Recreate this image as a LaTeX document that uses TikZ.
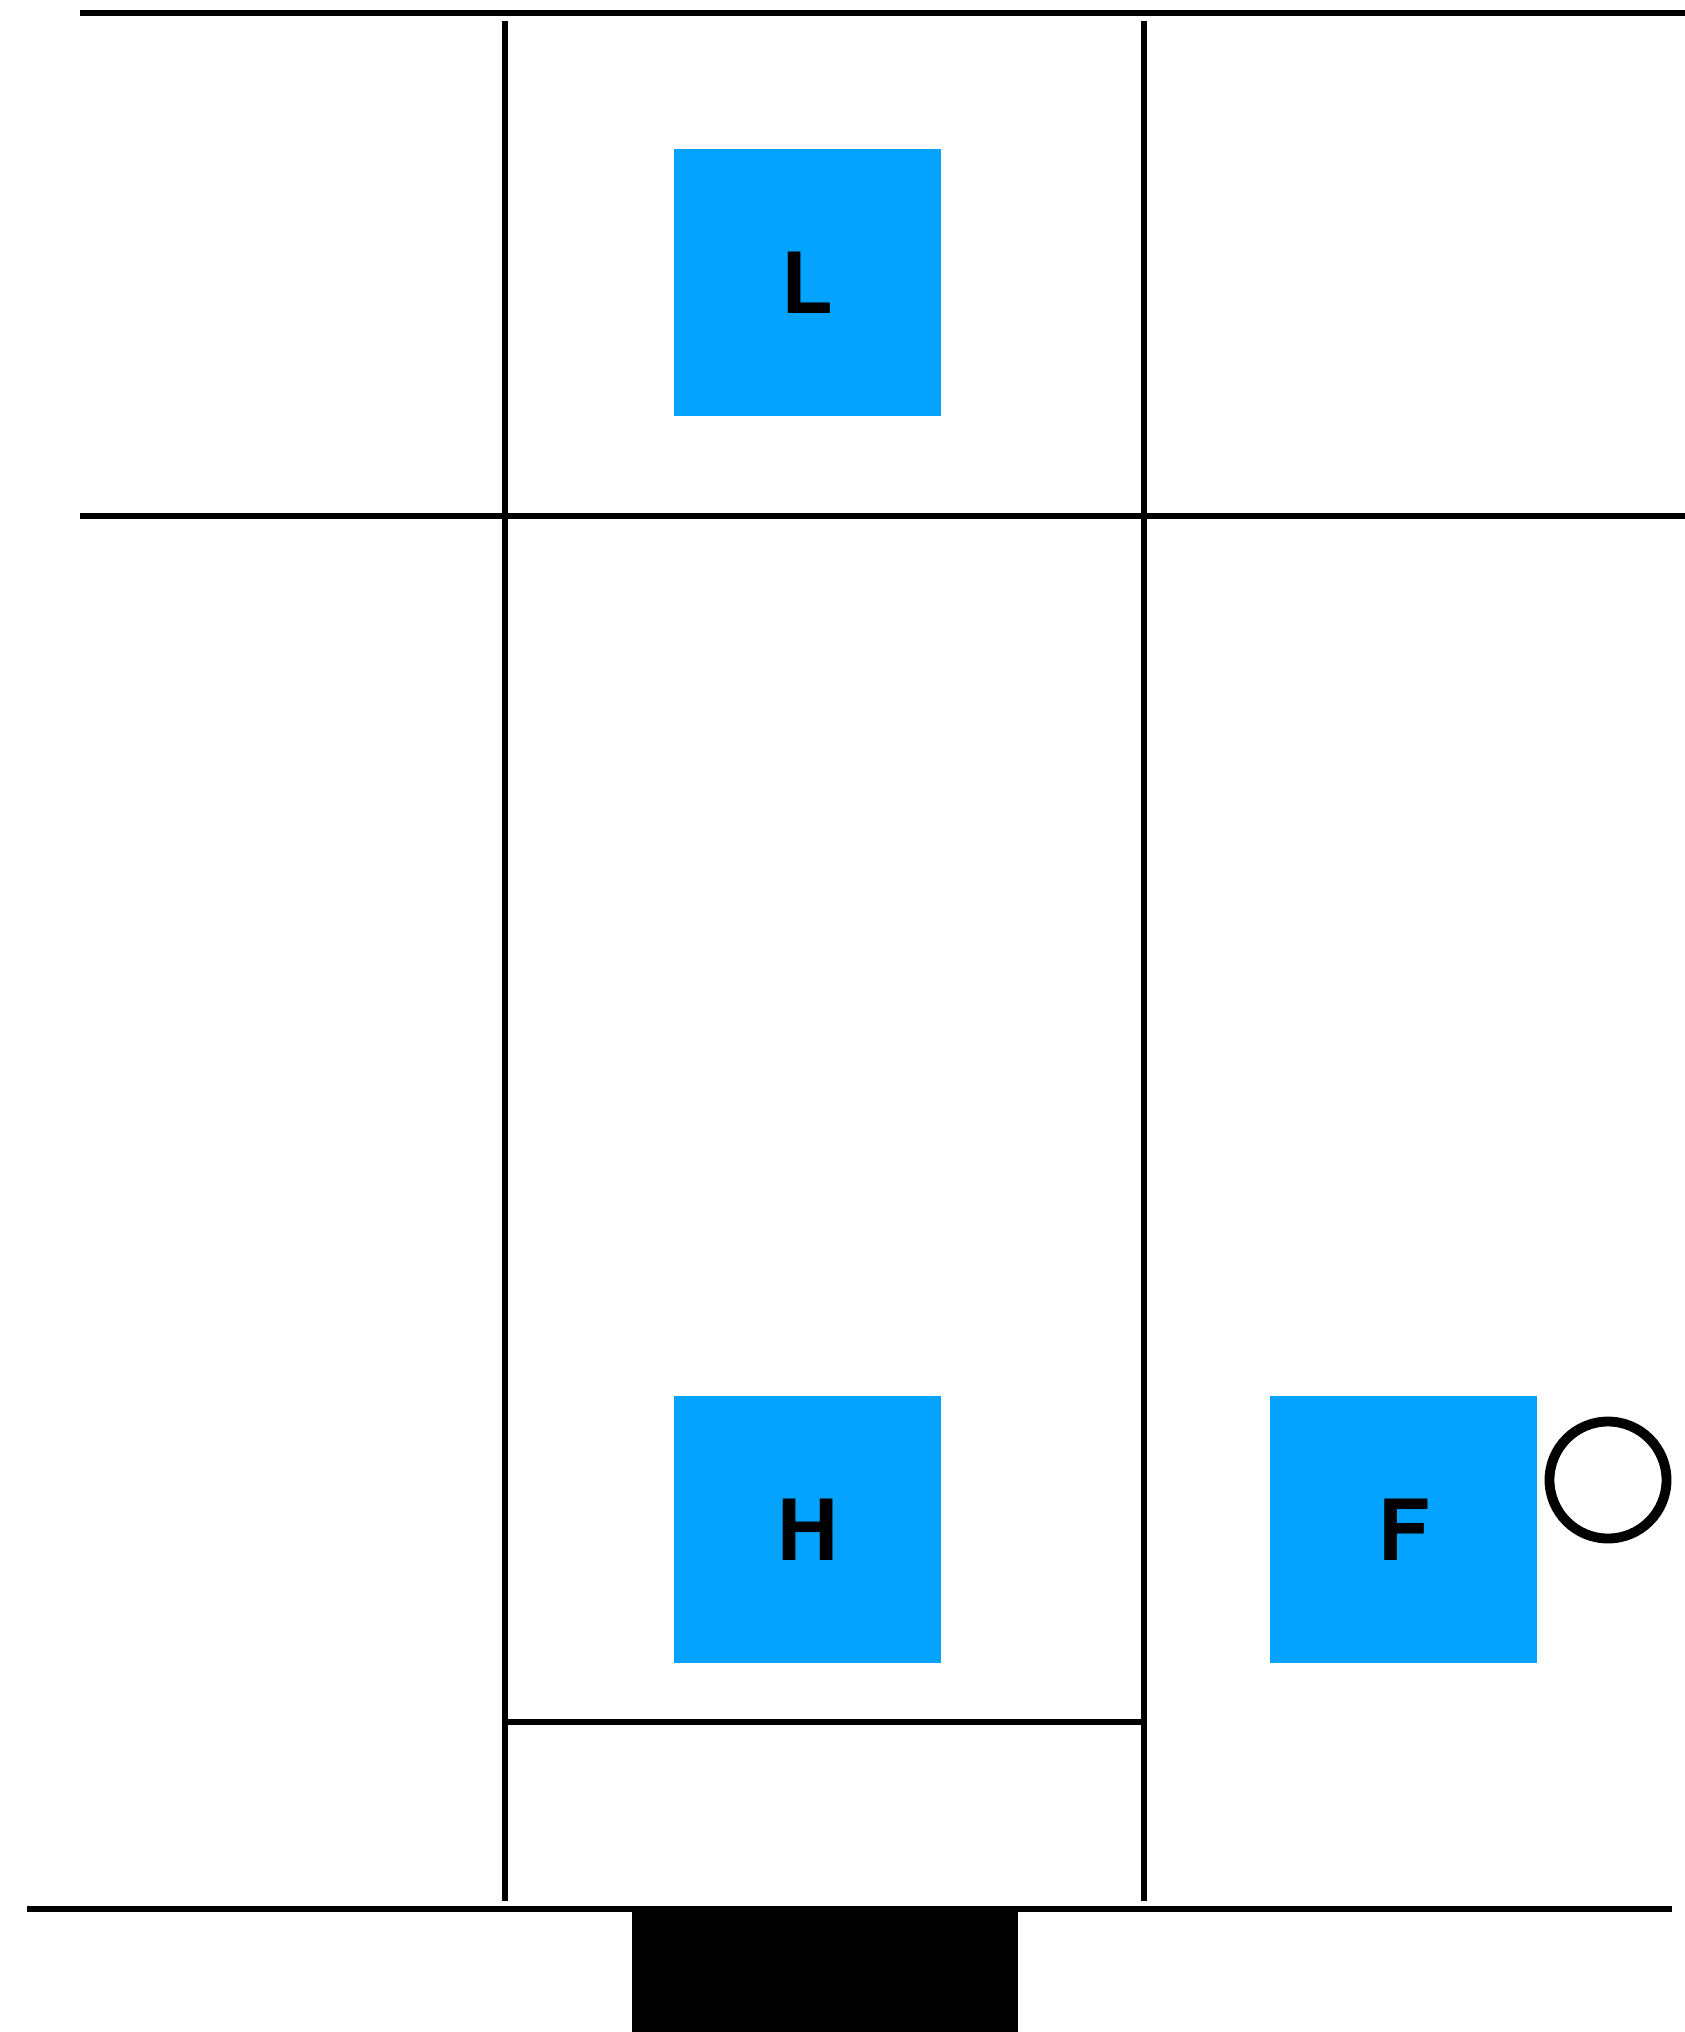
\documentclass[tikz,border=0pt]{standalone}
\usepackage{fontspec}
\setmainfont{TeX Gyre Heros}
\usetikzlibrary{positioning}
\definecolor{blockblue}{RGB}{3,163,255}

\begin{document}
\begin{tikzpicture}[
  x=0.1mm, y=-0.1mm,
  node distance=97.9mm and 32.8mm,
  wall/.style={line width=1.45pt},
  block/.style={fill=blockblue, minimum width=26.7mm, minimum height=26.7mm,
                inner sep=0pt, font=\fontsize{24}{26}\selectfont\bfseries},
  ring/.style={draw, circle, line width=2.8pt, minimum size=11.7mm, inner sep=0pt}
]
\useasboundingbox (0,0) rectangle (1685,2032);
\draw[wall] (80,13) -- (1685,13);
\draw[wall] (80,516) -- (1685,516);
\draw[wall] (505,21) -- (505,1901);
\draw[wall] (1144,21) -- (1144,1901);
\draw[wall] (505,1722) -- (1144,1722);
\draw[wall] (27,1909) -- (1672,1909);
\fill (632,1909) rectangle (1018,2032);
\node[block] (lnode) at (807.5,282.5) {L};
\node[block, below=of lnode] (hnode) {H};
\node[block, right=of hnode] (fnode) {F};
\node[ring] (knob) at (1608,1480) {};
\end{tikzpicture}
\end{document}
